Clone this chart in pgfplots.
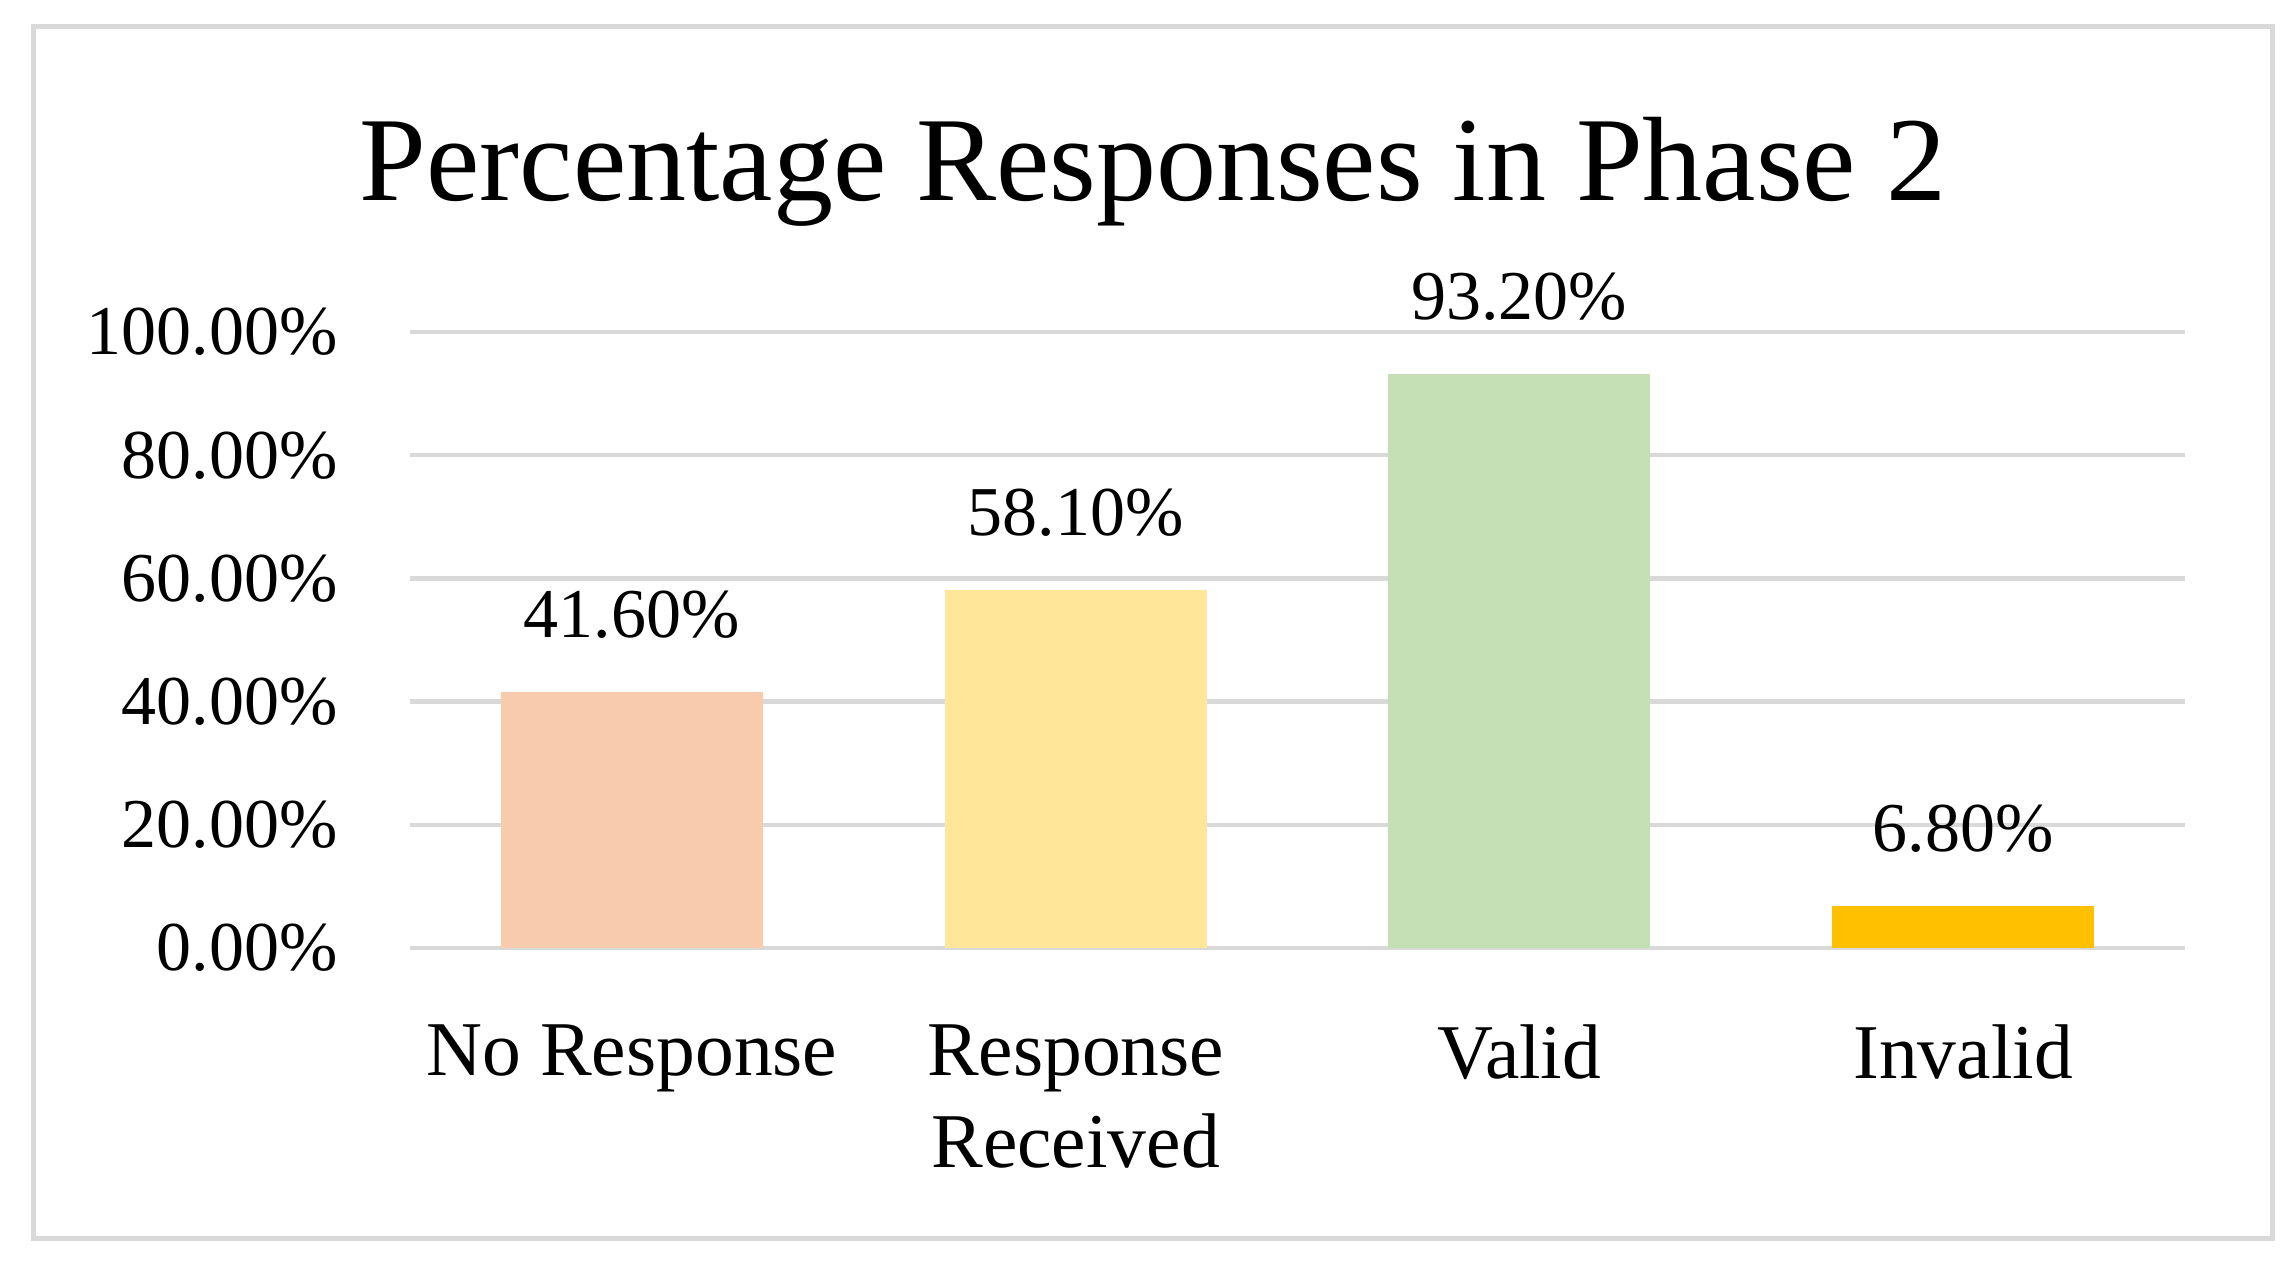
\documentclass[border=0pt]{standalone}
\usepackage{pgfplots}
\pgfplotsset{compat=1.18}
\usepackage{fontspec}
\setmainfont{Liberation Serif}
\definecolor{noresp}{HTML}{F8CBAD}
\definecolor{resp}{HTML}{FFE699}
\definecolor{valid}{HTML}{C5E0B4}
\definecolor{invalid}{HTML}{FFC000}
\definecolor{gridgray}{HTML}{D9D9D9}
\begin{document}
\begin{tikzpicture}
% page size and chart frame
\path (-82pt,-63.2pt) rectangle (377.2pt,189.6pt);
\draw[gridgray, line width=1pt] (-75.2pt,-58pt) rectangle (372.4pt,184.4pt);
\begin{axis}[
  at={(0pt,0pt)}, anchor=south west,
  scale only axis, width=355pt, height=123.2pt,
  xmin=-0.5, xmax=3.5, ymin=0, ymax=100,
  axis line style={draw=none},
  major tick length=0pt,
  ymajorgrids=true,
  grid style={gridgray, line width=0.9pt},
  ytick={0,20,...,100},
  xtick={0,1,2,3},
  xticklabels={No Response,{Response\\Received},Valid,Invalid},
  xticklabel style={align=center, font=\fontsize{15.5}{18.5}\selectfont, yshift=-11.8pt},
  yticklabel style={font=\fontsize{14}{16}\selectfont, xshift=-11pt},
  yticklabel={\pgfmathprintnumber[fixed,fixed zerofill,precision=2]{\tick}\%},
  /pgf/number format/assume math mode=true,
  nodes near coords={\pgfmathprintnumber[fixed,fixed zerofill,precision=2]{\pgfplotspointmeta}\%},
  nodes near coords style={font=\fontsize{14}{16}\selectfont, yshift=7.1pt},
  clip=false,
]
\addplot[ybar, bar width=0.59, fill=noresp, draw=none] coordinates {(0,41.6)};
\addplot[ybar, bar width=0.59, fill=resp, draw=none] coordinates {(1,58.1)};
\addplot[ybar, bar width=0.59, fill=valid, draw=none] coordinates {(2,93.2)};
\addplot[ybar, bar width=0.59, fill=invalid, draw=none] coordinates {(3,6.8)};
\end{axis}
\node[anchor=base, font=\fontsize{24}{28}\selectfont] at (148.6pt,149.5pt) {Percentage Responses in Phase 2};
\end{tikzpicture}
\end{document}
